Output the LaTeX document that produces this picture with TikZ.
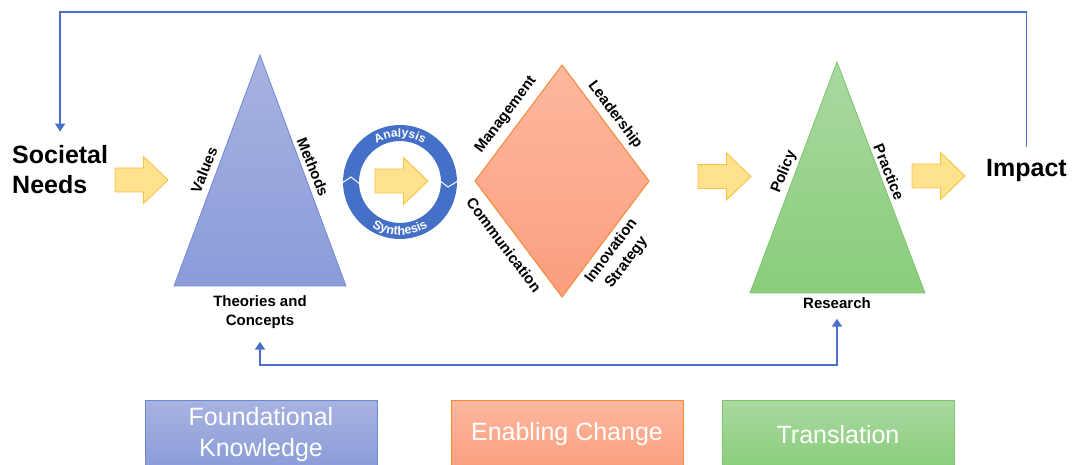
\documentclass[tikz,border=0pt]{standalone}
\usepackage{fontspec}
\setmainfont{Liberation Sans}
\usetikzlibrary{arrows.meta,decorations.text}
\definecolor{lineblue}{HTML}{4A70CC}
\definecolor{ringblue}{HTML}{4470C8}
\definecolor{triBlueTop}{HTML}{A7B2E0}
\definecolor{triBlueBot}{HTML}{8A9CD9}
\definecolor{triBlueEdge}{HTML}{6E88D8}
\definecolor{diaTop}{HTML}{FDB89F}
\definecolor{diaBot}{HTML}{FB9E7E}
\definecolor{diaEdge}{HTML}{F58A3A}
\definecolor{grTop}{HTML}{A9D9A1}
\definecolor{grBot}{HTML}{8ACD7B}
\definecolor{grEdge}{HTML}{7DC46B}
\definecolor{arrowfill}{HTML}{FFE28E}
\definecolor{arrowedge}{HTML}{F6C344}
\tikzset{
  yarrow/.pic={\draw[draw=arrowedge, fill=arrowfill, line width=0.9pt, line join=miter]
    (0,12)--(28.5,12)--(28.5,23.5)--(53,0)--(28.5,-23.5)--(28.5,-12)--(0,-12)--cycle;},
  fb/.style={draw=lineblue, line width=1.9pt},
  tip/.style={-{Triangle[width=10pt,length=8pt]}},
  big/.style={font=\bfseries\fontsize{25}{30}\selectfont, inner sep=0pt, align=left},
  lbl/.style={font=\bfseries\fontsize{15}{19}\selectfont, inner sep=0pt, align=center},
  boxtxt/.style={font=\fontsize{25}{31}\selectfont, text=white, align=center,
    minimum width=232pt, minimum height=68pt, inner sep=0pt, line width=1pt}
}
\begin{document}
\begin{tikzpicture}[x=1pt,y=1pt]
\useasboundingbox (0,0) rectangle (1072,464);

% Side texts
\node[big, anchor=west] (sn) at (12,294) {Societal\\Needs};
\node[big, anchor=west] (imp) at (986,294) {Impact};

% feedback loop on top
\draw[fb, tip, shorten <=12pt, shorten >=14pt] (imp.north) -- (imp.north |- 0,452) -| (sn.north);

% yellow arrows
\pic at (115,284) {yarrow};
\pic at (698,287.5) {yarrow};
\pic at (912,288) {yarrow};

% blue triangle
\path[top color=triBlueTop, bottom color=triBlueBot, draw=triBlueEdge, line width=0.8pt]
  (260,409) -- (346,178) -- (174,178) -- cycle;
\node[lbl, rotate=68] (val) at (204,294) {Values};
\node[lbl, rotate=-68] (met) at (313,297) {Methods};
\node[lbl] (cn) at (260,152) {Theories and\\Concepts};

% ring
\fill[ringblue, even odd rule] (400,282) circle[radius=57] circle[radius=41];
\draw[white, line width=1pt] (342,281) -- (351,287) -- (360,280);
\draw[white, line width=1pt] (440,283) -- (448,277) -- (458,283);
\path[decorate, decoration={text along path, text align=center,
   text={|\bfseries\fontsize{12}{12}\selectfont\color{white}|Analysis}}]
   (400,282) ++(150:45) arc[start angle=150, end angle=30, radius=45];
\path[decorate, decoration={text along path, text align=center,
   text={|\bfseries\fontsize{12.5}{12}\selectfont\color{white}|Synthesis}}]
   (400,282) ++(205:53) arc[start angle=205, end angle=335, radius=53];
\pic at (375,283) {yarrow};

% diamond
\path[top color=diaTop, bottom color=diaBot, draw=diaEdge, line width=1pt]
  (475,283) -- (562,399) -- (649,283) -- (562,167) -- cycle;
\node[lbl, rotate=53] (man) at (506,349) {Management};
\node[lbl, rotate=-53] (lea) at (615,349) {Leadership};
\node[lbl, rotate=-53] (com) at (504,219) {Communication};
\node[lbl, rotate=53] (ino) at (619,207) {Innovation\\Strategy};

% green triangle
\path[top color=grTop, bottom color=grBot, draw=grEdge, line width=0.8pt]
  (837,402) -- (925,171) -- (750,171) -- cycle;
\node[lbl, rotate=68] (pol) at (784,292) {Policy};
\node[lbl, rotate=-68] (pra) at (889,292) {Practice};
\node[lbl] (rs) at (837,161) {Research};

% bottom connector
\draw[fb, {Triangle[width=10pt,length=8pt]}-{Triangle[width=10pt,length=8pt]},
      shorten <=13pt, shorten >=10pt]
  (cn.south) -- (cn.south |- 0,99) -| (rs.south);

% legend boxes
\node[boxtxt, anchor=north, top color=triBlueTop, bottom color=triBlueBot, draw=triBlueEdge]
  (fk) at (261,64) {Foundational\\Knowledge};
\node[boxtxt, anchor=north, top color=diaTop, bottom color=diaBot, draw=diaEdge]
  (ec) at (567,64) {Enabling Change};
\node[boxtxt, anchor=north, top color=grTop, bottom color=grBot, draw=grEdge]
  (tr) at (838,64) {Translation};
\end{tikzpicture}
\end{document}
